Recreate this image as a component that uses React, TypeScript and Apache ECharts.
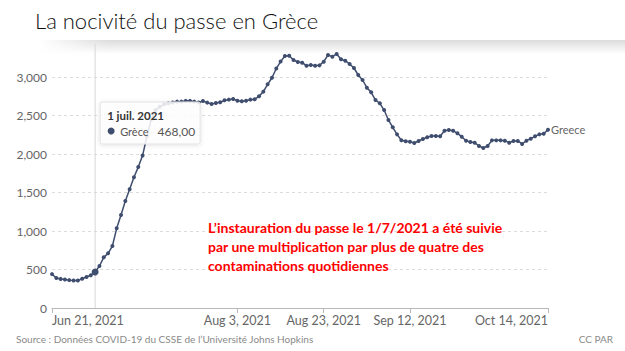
import React, { useEffect, useRef } from "react";
import * as echarts from "echarts";

const startDate = [2021, 5, 21];
const cases = [
  440, 390, 378, 370, 362, 356, 356, 380, 402, 425,
  468, 545, 658, 710, 805, 1035, 1208, 1390, 1541, 1697,
  1830, 1980, 2230, 2450, 2570, 2615, 2645, 2660, 2670, 2680,
  2680, 2690, 2690, 2680, 2670, 2688, 2667, 2649, 2662, 2671,
  2697, 2706, 2714, 2692, 2684, 2692, 2706, 2710, 2750, 2810,
  2905, 2990, 3110, 3200, 3273, 3277, 3221, 3195, 3186, 3147,
  3156, 3147, 3151, 3199, 3286, 3264, 3299, 3230, 3212, 3169,
  3117, 3026, 2961, 2861, 2801, 2701, 2658, 2571, 2442, 2347,
  2255, 2178, 2165, 2160, 2143, 2169, 2195, 2217, 2234, 2234,
  2230, 2303, 2312, 2303, 2269, 2225, 2173, 2156, 2147, 2104,
  2078, 2104, 2177, 2177, 2177, 2173, 2147, 2169, 2169, 2130,
  2173, 2199, 2230, 2255, 2264, 2315,
];
const tickDates = ["2021-06-21", "2021-08-03", "2021-08-23", "2021-09-12", "2021-10-14"];
const tickLabels = ["Jun 21, 2021", "Aug 3, 2021", "Aug 23, 2021", "Sep 12, 2021", "Oct 14, 2021"];
const hoverDate = "2021-07-01";
const hoverTitle = "1 juil. 2021";
const hoverValueText = "468,00";
const seriesName = "Greece";
const tooltipSeriesName = "Grèce";
const titleText = "La nocivité du passe en Grèce";
const noteLines = [
  "L’instauration du passe le 1/7/2021 a été suivie",
  "par une multiplication par plus de quatre des",
  "contaminations quotidiennes",
];
const sourceText = "Source : Données COVID-19 du CSSE de l’Université Johns Hopkins";
const creditText = "CC PAR";

const dates = cases.map((_, i) =>
  new Date(Date.UTC(startDate[0], startDate[1], startDate[2] + i)).toISOString().slice(0, 10)
);
const tickIdx = tickDates.map((d) => dates.indexOf(d));
const hoverIdx = dates.indexOf(hoverDate);

const LINE = "#3f4d6e";
const FONT = "Lato";

export default function App() {
  const ref = useRef<HTMLDivElement>(null);
  useEffect(() => {
    document.body.style.margin = "0";
    const chart = echarts.init(ref.current!, undefined, { renderer: "svg" });
    chart.setOption({
      animation: false,
      backgroundColor: "#ffffff",
      grid: { left: 52, right: 77, top: 77, bottom: 43 },
      xAxis: {
        type: "category",
        data: dates,
        boundaryGap: false,
        axisLine: { lineStyle: { color: "#b8b8b8", width: 1 } },
        axisTick: {
          show: true,
          interval: (i: number) => tickIdx.includes(i),
          length: 5,
          lineStyle: { color: "#b8b8b8" },
        },
        axisLabel: {
          interval: (i: number) => tickIdx.includes(i),
          formatter: (v: string) => {
            const k = tickDates.indexOf(v);
            return k >= 0 ? tickLabels[k] : "";
          },
          color: "#666",
          fontFamily: FONT,
          fontSize: 12.5,
          margin: 6,
          alignMinLabel: "left",
          alignMaxLabel: "right",
        },
        splitLine: { show: false },
      },
      yAxis: {
        type: "value",
        min: 0,
        max: 3000,
        interval: 500,
        axisLine: { show: false },
        axisTick: { show: false },
        axisLabel: {
          formatter: (v: number) => v.toLocaleString("en-US"),
          color: "#666",
          fontFamily: FONT,
          fontSize: 12,
          margin: 5,
        },
        splitLine: { lineStyle: { color: "#dcdcdc", type: [3, 3] } },
      },
      series: [
        {
          type: "line",
          name: seriesName,
          data: cases.map((v, i) =>
            i === hoverIdx ? { value: v, symbolSize: 7 } : v
          ),
          symbol: "circle",
          symbolSize: 4,
          showAllSymbol: true,
          clip: false,
          lineStyle: { color: LINE, width: 1.5 },
          itemStyle: { color: LINE },
          endLabel: {
            show: true,
            formatter: seriesName,
            color: "#666",
            fontFamily: FONT,
            fontSize: 11,
            distance: 3,
          },
          z: 3,
        },
      ],
    });

    const [px] = chart.convertToPixel({ seriesIndex: 0 }, [hoverIdx, cases[hoverIdx]]) as number[];
    const [, y0] = chart.convertToPixel({ seriesIndex: 0 }, [0, 0]) as number[];
    const [, yTop] = chart.convertToPixel({ seriesIndex: 0 }, [0, 3000]) as number[];
    const boxX = px + 5;
    const boxY = yTop + 25;

    chart.setOption({
      graphic: [
        {
          type: "rect",
          shape: { x: 20, y: 40, width: 605, height: 14 },
          style: {
            fill: new echarts.graphic.LinearGradient(0, 0, 0, 1, [
              { offset: 0, color: "rgba(0,0,0,0.14)" },
              { offset: 1, color: "rgba(0,0,0,0)" },
            ]),
          },
          z: 0,
          silent: true,
        },
        {
          type: "rect",
          shape: { x: 0, y: 38, width: 110, height: 18 },
          style: {
            fill: new echarts.graphic.LinearGradient(0, 0, 1, 0, [
              { offset: 0, color: "rgba(255,255,255,1)" },
              { offset: 0.35, color: "rgba(255,255,255,1)" },
              { offset: 1, color: "rgba(255,255,255,0)" },
            ]),
          },
          z: 0,
          silent: true,
        },
        {
          type: "text",
          left: 35,
          top: 9,
          style: {
            text: titleText,
            fill: "#111",
            fontFamily: FONT,
            fontSize: 22,
            fontWeight: 300,
          },
        },
        {
          type: "line",
          shape: { x1: px, y1: 44, x2: px, y2: y0 },
          style: { stroke: "#d8d8d8", lineWidth: 1 },
          z: 1,
          silent: true,
        },
        {
          type: "group",
          z: 100,
          children: [
            {
              type: "rect",
              shape: { x: boxX, y: boxY, width: 100, height: 42, r: 2 },
              style: {
                fill: "rgba(255,255,255,0.85)",
                stroke: "#e2e2e2",
                lineWidth: 1,
                shadowBlur: 4,
                shadowColor: "rgba(0,0,0,0.12)",
                shadowOffsetY: 1,
              },
              z: 100,
            },
            {
              type: "text",
              x: boxX + 7,
              y: boxY + 13,
              style: {
                text: hoverTitle,
                fill: "#333",
                fontFamily: FONT,
                fontSize: 11.5,
                fontWeight: "bold",
                verticalAlign: "middle",
              },
              z: 101,
            },
            {
              type: "circle",
              shape: { cx: boxX + 11, cy: boxY + 29, r: 3.5 },
              style: { fill: LINE },
              z: 101,
            },
            {
              type: "text",
              x: boxX + 20,
              y: boxY + 29,
              style: {
                text: tooltipSeriesName,
                fill: "#555",
                fontFamily: FONT,
                fontSize: 11,
                verticalAlign: "middle",
              },
              z: 101,
            },
            {
              type: "text",
              x: boxX + 95,
              y: boxY + 29,
              style: {
                text: hoverValueText,
                fill: "#555",
                fontFamily: FONT,
                fontSize: 12,
                align: "right",
                verticalAlign: "middle",
              },
              z: 101,
            },
          ],
        },
        ...noteLines.map((t, i) => ({
          type: "text",
          x: 208,
          y: 227 + i * 19,
          style: {
            text: t,
            fill: "#ff0000",
            fontFamily: FONT,
            fontSize: 14,
            fontWeight: "bold",
            verticalAlign: "middle",
          },
          z: 50,
        })),
        {
          type: "text",
          x: 16,
          y: 339,
          style: {
            text: sourceText,
            fill: "#8a8a8a",
            fontFamily: FONT,
            fontSize: 10,
            verticalAlign: "middle",
          },
        },
        {
          type: "text",
          x: 613,
          y: 339,
          style: {
            text: creditText,
            fill: "#8a8a8a",
            fontFamily: FONT,
            fontSize: 10,
            align: "right",
            verticalAlign: "middle",
          },
        },
      ],
    });
    return () => chart.dispose();
  }, []);
  return (
    <div
      ref={ref}
      style={{ position: "fixed", left: 0, top: 0, width: 625, height: 351 }}
    />
  );
}
